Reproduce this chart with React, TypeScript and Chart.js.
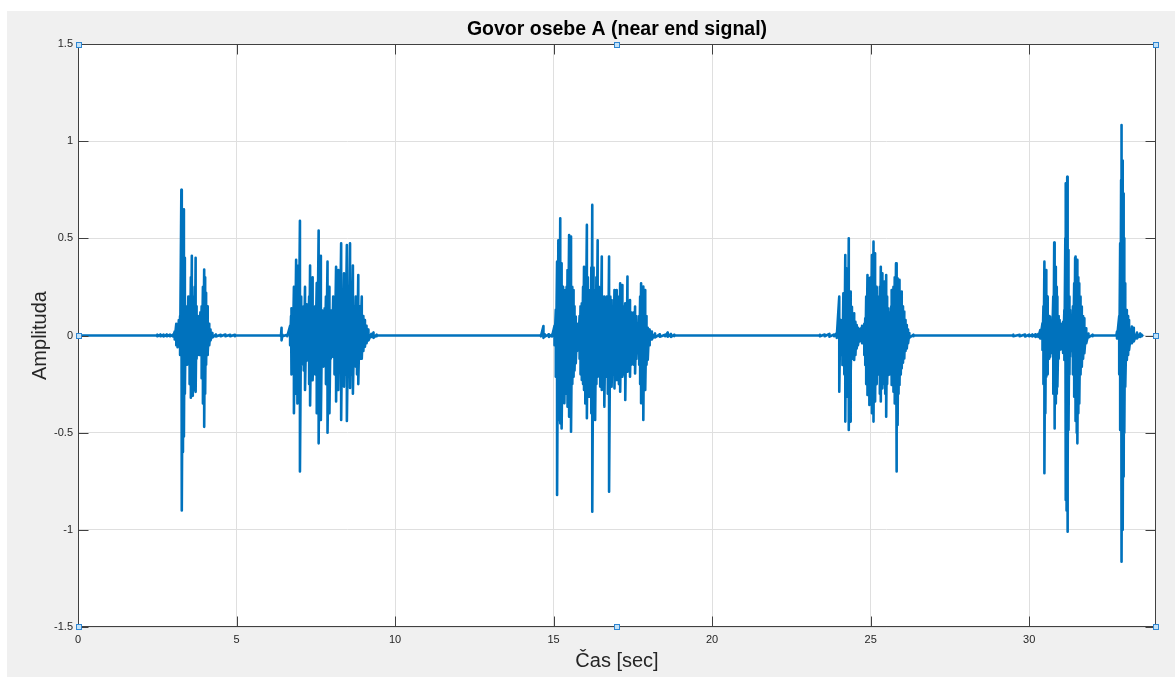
import React, { useEffect, useRef } from 'react';
import { Chart, registerables } from 'chart.js';

Chart.register(...registerables);

// ---------- texts & ticks ----------
const titleText = 'Govor osebe A (near end signal)';
const xLabelText = 'Čas [sec]';
const yLabelText = 'Amplituda';
const xTickValues = [0, 5, 10, 15, 20, 25, 30];
const yTickValues = [-1.5, -1, -0.5, 0, 0.5, 1, 1.5];
const xRange = [0, 34];
const yRange = [-1.5, 1.5];
const signalStart = 0;
const signalEnd = 33.56;

// ---------- waveform envelope columns (time [s], upper, lower) ----------
const b1Time = [2.5, 2.6, 2.7, 2.8, 2.9, 3.0, 3.05, 3.10, 3.14, 3.18, 3.22, 3.26, 3.28, 3.31, 3.34, 3.37, 3.40, 3.44, 3.48, 3.52, 3.56, 3.59, 3.62, 3.65, 3.68, 3.71, 3.74, 3.78, 3.82, 3.86, 3.90, 3.94, 3.98, 4.01, 4.04, 4.07, 4.10, 4.14, 4.18, 4.24, 4.35, 4.5, 4.65, 4.8, 4.95];
const b1High = [0.004, 0.005, 0.004, 0.005, 0.004, 0.005, 0.02, 0.06, 0.03, 0.08, 0.1, 0.75, 0.5, 0.3, 0.65, 0.4, 0.15, 0.12, 0.2, 0.12, 0.3, 0.41, 0.2, 0.12, 0.25, 0.4, 0.15, 0.1, 0.08, 0.12, 0.15, 0.25, 0.34, 0.3, 0.22, 0.15, 0.1, 0.06, 0.03, 0.012, 0.005, 0.004, 0.005, 0.004, 0.004];
const b1Low = [-0.004, -0.004, -0.005, -0.004, -0.004, -0.005, -0.02, -0.05, -0.06, -0.04, -0.1, -0.3, -0.9, -0.6, -0.52, -0.3, -0.12, -0.15, -0.1, -0.25, -0.32, -0.2, -0.31, -0.15, -0.28, -0.29, -0.12, -0.08, -0.1, -0.1, -0.22, -0.35, -0.47, -0.3, -0.15, -0.1, -0.09, -0.05, -0.025, -0.01, -0.005, -0.004, -0.004, -0.004, -0.004];

const b2Time = [6.40, 6.42, 6.45, 6.60, 6.69, 6.72, 6.74, 6.77, 6.81, 6.84, 6.88, 6.92, 6.96, 7.00, 7.04, 7.08, 7.12, 7.16, 7.21, 7.25, 7.29, 7.32, 7.36, 7.40, 7.44, 7.48, 7.53, 7.59, 7.62, 7.66, 7.70, 7.74, 7.78, 7.82, 7.87, 7.93, 7.97, 8.01, 8.05, 8.09, 8.14, 8.17, 8.21, 8.25, 8.30, 8.34, 8.39, 8.43, 8.48, 8.53, 8.58, 8.62, 8.67, 8.72, 8.76, 8.80, 8.84, 8.89, 8.95, 9.00, 9.05, 9.10, 9.16, 9.25, 9.32, 9.42];
const b2High = [0.004, 0.04, 0.004, 0.004, 0.05, 0.1, 0.14, 0.12, 0.25, 0.15, 0.39, 0.36, 0.15, 0.59, 0.2, 0.12, 0.15, 0.25, 0.16, 0.12, 0.2, 0.36, 0.14, 0.3, 0.12, 0.15, 0.27, 0.54, 0.25, 0.41, 0.13, 0.11, 0.14, 0.2, 0.38, 0.25, 0.13, 0.12, 0.2, 0.15, 0.354, 0.2, 0.337, 0.15, 0.474, 0.2, 0.32, 0.15, 0.466, 0.2, 0.474, 0.2, 0.36, 0.15, 0.2, 0.15, 0.311, 0.15, 0.2, 0.1, 0.08, 0.05, 0.03, 0.008, 0.015, 0.004];
const b2Low = [-0.004, -0.025, -0.004, -0.004, -0.05, -0.2, -0.1, -0.15, -0.4, -0.2, -0.3, -0.35, -0.15, -0.7, -0.15, -0.1, -0.18, -0.28, -0.13, -0.12, -0.25, -0.36, -0.12, -0.23, -0.12, -0.2, -0.4, -0.555, -0.3, -0.435, -0.12, -0.16, -0.12, -0.25, -0.5, -0.4, -0.12, -0.1, -0.11, -0.2, -0.34, -0.15, -0.28, -0.15, -0.435, -0.2, -0.263, -0.2, -0.44, -0.15, -0.27, -0.2, -0.3, -0.12, -0.16, -0.2, -0.25, -0.12, -0.12, -0.08, -0.058, -0.04, -0.025, -0.008, -0.012, -0.004];

const b3Time = [14.60, 14.68, 14.72, 14.85, 14.95, 15.03, 15.07, 15.11, 15.15, 15.18, 15.21, 15.24, 15.26, 15.30, 15.34, 15.38, 15.41, 15.44, 15.49, 15.52, 15.55, 15.59, 15.63, 15.66, 15.70, 15.74, 15.78, 15.82, 15.85, 15.89, 15.93, 15.96, 16.00, 16.05, 16.08, 16.12, 16.16, 16.19, 16.22, 16.26, 16.31, 16.35, 16.39, 16.43, 16.47, 16.52, 16.56, 16.60, 16.64, 16.68, 16.71, 16.75, 16.79, 16.83, 16.88, 16.92, 16.96, 16.99, 17.03, 17.06, 17.10, 17.14, 17.17, 17.21, 17.26, 17.30, 17.33, 17.37, 17.41, 17.45, 17.50, 17.53, 17.57, 17.61, 17.66, 17.70, 17.73, 17.76, 17.80, 17.83, 17.86, 17.89, 17.93, 17.97, 18.01, 18.04, 18.10, 18.20, 18.35, 18.52, 18.60, 18.70, 18.80];
const b3High = [0.004, 0.049, 0.006, 0.006, 0.005, 0.05, 0.132, 0.38, 0.49, 0.3, 0.603, 0.35, 0.372, 0.25, 0.234, 0.2, 0.25, 0.337, 0.517, 0.3, 0.509, 0.25, 0.234, 0.15, 0.097, 0.06, 0.03, 0.1, 0.15, 0.166, 0.25, 0.354, 0.3, 0.569, 0.3, 0.234, 0.2, 0.35, 0.672, 0.35, 0.234, 0.3, 0.49, 0.25, 0.2, 0.406, 0.2, 0.2, 0.15, 0.2, 0.2, 0.406, 0.2, 0.183, 0.15, 0.234, 0.15, 0.234, 0.15, 0.2, 0.269, 0.18, 0.26, 0.15, 0.166, 0.15, 0.303, 0.15, 0.183, 0.12, 0.097, 0.12, 0.149, 0.1, 0.063, 0.1, 0.2, 0.269, 0.2, 0.252, 0.2, 0.234, 0.1, 0.04, 0.03, 0.029, 0.02, 0.01, 0.006, 0.004, 0.015, 0.008, 0.003];
const b3Low = [-0.004, -0.012, -0.006, -0.007, -0.005, -0.05, -0.212, -0.821, -0.435, -0.3, -0.452, -0.35, -0.478, -0.3, -0.349, -0.25, -0.3, -0.366, -0.418, -0.3, -0.495, -0.25, -0.212, -0.18, -0.143, -0.08, -0.057, -0.12, -0.2, -0.229, -0.25, -0.28, -0.35, -0.426, -0.3, -0.315, -0.25, -0.4, -0.907, -0.4, -0.435, -0.25, -0.212, -0.2, -0.263, -0.28, -0.2, -0.366, -0.2, -0.212, -0.3, -0.804, -0.25, -0.263, -0.2, -0.272, -0.2, -0.229, -0.18, -0.25, -0.289, -0.18, -0.212, -0.2, -0.332, -0.18, -0.186, -0.15, -0.212, -0.15, -0.143, -0.15, -0.195, -0.12, -0.09, -0.15, -0.25, -0.349, -0.3, -0.435, -0.25, -0.28, -0.15, -0.125, -0.05, -0.03, -0.02, -0.01, -0.006, -0.004, -0.006, -0.007, -0.003];

const b4Time = [23.40, 23.55, 23.70, 23.85, 23.93, 24.01, 24.04, 24.06, 24.09, 24.11, 24.14, 24.17, 24.20, 24.23, 24.25, 24.28, 24.31, 24.35, 24.38, 24.41, 24.44, 24.48, 24.52, 24.56, 24.60, 24.65, 24.69, 24.73, 24.77, 24.80, 24.83, 24.86, 24.90, 24.93, 24.96, 25.00, 25.04, 25.07, 25.09, 25.12, 25.14, 25.17, 25.20, 25.23, 25.25, 25.29, 25.32, 25.34, 25.37, 25.40, 25.43, 25.46, 25.49, 25.52, 25.56, 25.59, 25.62, 25.65, 25.67, 25.70, 25.72, 25.76, 25.80, 25.83, 25.85, 25.88, 25.91, 25.95, 25.98, 26.02, 26.06, 26.10, 26.14, 26.18, 26.22, 26.35];
const b4High = [0.004, 0.005, 0.008, 0.005, 0.012, 0.2, 0.08, 0.072, 0.06, 0.054, 0.217, 0.2, 0.414, 0.25, 0.345, 0.2, 0.5, 0.226, 0.15, 0.148, 0.1, 0.114, 0.07, 0.054, 0.04, 0.03, 0.037, 0.05, 0.02, 0.06, 0.089, 0.2, 0.311, 0.25, 0.294, 0.3, 0.414, 0.35, 0.483, 0.3, 0.423, 0.25, 0.226, 0.2, 0.123, 0.25, 0.354, 0.3, 0.32, 0.25, 0.277, 0.25, 0.311, 0.2, 0.14, 0.12, 0.089, 0.15, 0.234, 0.2, 0.251, 0.3, 0.371, 0.3, 0.294, 0.25, 0.286, 0.2, 0.226, 0.15, 0.123, 0.08, 0.054, 0.03, 0.012, 0.004];
const b4Low = [-0.004, -0.004, -0.006, -0.004, -0.012, -0.289, -0.05, -0.03, -0.1, -0.152, -0.118, -0.2, -0.443, -0.3, -0.315, -0.25, -0.486, -0.443, -0.2, -0.118, -0.12, -0.126, -0.1, -0.066, -0.05, -0.03, -0.023, -0.04, -0.023, -0.1, -0.152, -0.25, -0.306, -0.3, -0.357, -0.35, -0.4, -0.35, -0.443, -0.3, -0.34, -0.25, -0.221, -0.2, -0.169, -0.3, -0.34, -0.25, -0.272, -0.25, -0.238, -0.3, -0.418, -0.25, -0.203, -0.2, -0.186, -0.2, -0.255, -0.25, -0.289, -0.35, -0.7, -0.5, -0.46, -0.3, -0.255, -0.2, -0.169, -0.14, -0.118, -0.08, -0.066, -0.04, -0.012, -0.004];

const b5Time = [29.50, 29.70, 29.87, 30.00, 30.10, 30.20, 30.29, 30.35, 30.42, 30.45, 30.48, 30.51, 30.54, 30.57, 30.59, 30.63, 30.66, 30.69, 30.72, 30.76, 30.79, 30.81, 30.84, 30.87, 30.89, 30.93, 30.96, 31.00, 31.03, 31.07, 31.11, 31.14, 31.16, 31.18, 31.20, 31.22, 31.24, 31.27, 31.29, 31.32, 31.35, 31.38, 31.42, 31.45, 31.47, 31.50, 31.52, 31.55, 31.58, 31.62, 31.66, 31.70, 31.74, 31.80, 31.87, 32.00];
const b5High = [0.004, 0.004, 0.005, 0.004, 0.005, 0.006, 0.008, 0.028, 0.063, 0.15, 0.38, 0.3, 0.337, 0.2, 0.131, 0.1, 0.097, 0.08, 0.063, 0.2, 0.478, 0.4, 0.354, 0.25, 0.2, 0.1, 0.08, 0.06, 0.046, 0.07, 0.131, 0.5, 0.783, 0.7, 0.817, 0.6, 0.44, 0.2, 0.131, 0.1, 0.08, 0.15, 0.268, 0.4, 0.406, 0.35, 0.389, 0.3, 0.268, 0.2, 0.149, 0.1, 0.089, 0.037, 0.01, 0.004];
const b5Low = [-0.004, -0.004, -0.005, -0.004, -0.005, -0.008, -0.008, -0.015, -0.074, -0.25, -0.709, -0.4, -0.212, -0.2, -0.143, -0.12, -0.109, -0.09, -0.074, -0.3, -0.478, -0.4, -0.35, -0.3, -0.263, -0.12, -0.074, -0.07, -0.057, -0.09, -0.126, -0.6, -0.847, -0.9, -1.01, -0.7, -0.486, -0.2, -0.109, -0.08, -0.074, -0.2, -0.315, -0.4, -0.44, -0.5, -0.555, -0.4, -0.35, -0.2, -0.16, -0.12, -0.091, -0.04, -0.01, -0.004];

const b6Time = [32.77, 32.84, 32.87, 32.90, 32.92, 32.95, 32.98, 33.00, 33.03, 33.08, 33.12, 33.15, 33.24, 33.30, 33.40, 33.50, 33.55];
const b6High = [0.02, 0.1, 0.474, 0.8, 1.083, 0.9, 0.731, 0.5, 0.268, 0.131, 0.1, 0.08, 0.046, 0.04, 0.015, 0.01, 0.004];
const b6Low = [-0.015, -0.2, -0.486, -0.9, -1.164, -1.0, -0.726, -0.5, -0.263, -0.126, -0.1, -0.074, -0.04, -0.03, -0.015, -0.008, -0.004];

// ---------- styles ----------
const FONT = "'Liberation Sans', Arial, Helvetica, sans-serif";
const LINE_COLOR = '#0072BD';
const GRID_COLOR = '#dfdfdf';
const AXIS_COLOR = '#404040';
const TEXT_COLOR = '#262626';
const FIG_BG = '#f0f0f0';

type Pt = { x: number; y: number };

function buildSignal(): Pt[] {
  const bursts: [number[], number[], number[]][] = [
    [b1Time, b1High, b1Low],
    [b2Time, b2High, b2Low],
    [b3Time, b3High, b3Low],
    [b4Time, b4High, b4Low],
    [b5Time, b5High, b5Low],
    [b6Time, b6High, b6Low],
  ];
  const pts: Pt[] = [{ x: signalStart, y: 0 }];
  for (const [t, hi, lo] of bursts) {
    pts.push({ x: t[0] - 0.02, y: 0 });
    for (let i = 0; i < t.length; i++) {
      pts.push({ x: t[i], y: hi[i] });
      pts.push({ x: t[i], y: lo[i] });
    }
    pts.push({ x: t[t.length - 1] + 0.02, y: 0 });
  }
  pts.push({ x: signalEnd, y: 0 });
  return pts;
}

const matlabAxesPlugin = {
  id: 'matlabAxes',
  beforeDraw(chart: any) {
    const { ctx, chartArea: a } = chart;
    ctx.save();
    ctx.fillStyle = '#ffffff';
    ctx.fillRect(a.left, a.top, a.right - a.left, a.bottom - a.top);
    ctx.restore();
  },
  afterDraw(chart: any) {
    const { ctx, chartArea: a, scales } = chart;
    const xs = scales.x;
    const ys = scales.y;
    const L = Math.round(a.left) + 0.5;
    const R = Math.round(a.right) - 0.5;
    const T = Math.round(a.top) + 0.5;
    const B = Math.round(a.bottom) - 0.5;
    ctx.save();
    ctx.strokeStyle = AXIS_COLOR;
    ctx.lineWidth = 1;
    ctx.strokeRect(L, T, R - L, B - T);
    const tl = 10;
    ctx.beginPath();
    for (const v of xTickValues) {
      const p = Math.round(xs.getPixelForValue(v)) + 0.5;
      ctx.moveTo(p, B);
      ctx.lineTo(p, B - tl);
      ctx.moveTo(p, T);
      ctx.lineTo(p, T + tl);
    }
    for (const v of yTickValues) {
      const p = Math.round(ys.getPixelForValue(v)) + 0.5;
      ctx.moveTo(L, p);
      ctx.lineTo(L + tl, p);
      ctx.moveTo(R, p);
      ctx.lineTo(R - tl, p);
    }
    ctx.stroke();
    // selection handles
    const cx = Math.round((a.left + a.right) / 2);
    const cy = Math.round((a.top + a.bottom) / 2);
    const handles = [
      [L, T], [cx, T], [R, T],
      [L, cy], [R, cy],
      [L, B], [cx, B], [R, B],
    ];
    for (const [hx, hy] of handles) {
      const x0 = Math.round(hx - 3) + 0.5;
      const y0 = Math.round(hy - 3) + 0.5;
      ctx.fillStyle = '#c4e2f7';
      ctx.fillRect(x0, y0, 5, 5);
      ctx.strokeStyle = '#2f86d2';
      ctx.strokeRect(x0, y0, 5, 5);
    }
    ctx.restore();
  },
};

export default function App() {
  const canvasRef = useRef<HTMLCanvasElement | null>(null);

  useEffect(() => {
    if (!canvasRef.current) return;
    const chart = new Chart(canvasRef.current, {
      type: 'line',
      data: {
        datasets: [
          {
            data: buildSignal(),
            borderColor: LINE_COLOR,
            borderWidth: 2.6,
            pointRadius: 0,
            tension: 0,
            fill: false,
            borderJoinStyle: 'round',
            borderCapStyle: 'round',
          } as any,
        ],
      },
      options: {
        animation: false,
        responsive: false,
        events: [],
        layout: { padding: { left: 0, right: 19, top: 0, bottom: 0 } },
        plugins: {
          legend: { display: false },
          tooltip: { enabled: false },
          title: {
            display: true,
            text: titleText,
            fullSize: false,
            color: '#000000',
            font: { family: FONT, size: 19.5, weight: 'bold' },
            padding: { top: 7.3, bottom: 2.3 },
          } as any,
        },
        scales: {
          x: {
            type: 'linear',
            min: xRange[0],
            max: xRange[1],
            afterBuildTicks: (s: any) => {
              s.ticks = xTickValues.map((v) => ({ value: v }));
            },
            afterFit: (s: any) => {
              s.height = 50;
            },
            ticks: {
              autoSkip: false,
              maxRotation: 0,
              padding: 6,
              color: TEXT_COLOR,
              font: { family: FONT, size: 11 },
              callback: (v: any) => String(v),
            },
            grid: { color: GRID_COLOR, drawTicks: false },
            border: { display: false },
            title: {
              display: true,
              text: xLabelText,
              color: TEXT_COLOR,
              font: { family: FONT, size: 20 },
              padding: { top: 0, bottom: 4 },
            },
          },
          y: {
            type: 'linear',
            min: yRange[0],
            max: yRange[1],
            afterBuildTicks: (s: any) => {
              s.ticks = yTickValues.map((v) => ({ value: v }));
            },
            afterFit: (s: any) => {
              s.width = 71;
            },
            ticks: {
              autoSkip: false,
              padding: 5,
              color: TEXT_COLOR,
              font: { family: FONT, size: 11 },
              callback: (v: any) => String(v),
            },
            grid: { color: GRID_COLOR, drawTicks: false },
            border: { display: false },
            title: {
              display: true,
              text: yLabelText,
              color: TEXT_COLOR,
              font: { family: FONT, size: 20 },
              padding: { top: 21, bottom: 0 },
            },
          },
        },
      } as any,
      plugins: [matlabAxesPlugin],
    });
    return () => chart.destroy();
  }, []);

  return (
    <div
      style={{
        position: 'absolute',
        left: 7,
        top: 11,
        width: 1168,
        height: 666,
        background: FIG_BG,
        overflow: 'hidden',
      }}
    >
      <canvas ref={canvasRef} width={1168} height={666} style={{ display: 'block' }} />
    </div>
  );
}
